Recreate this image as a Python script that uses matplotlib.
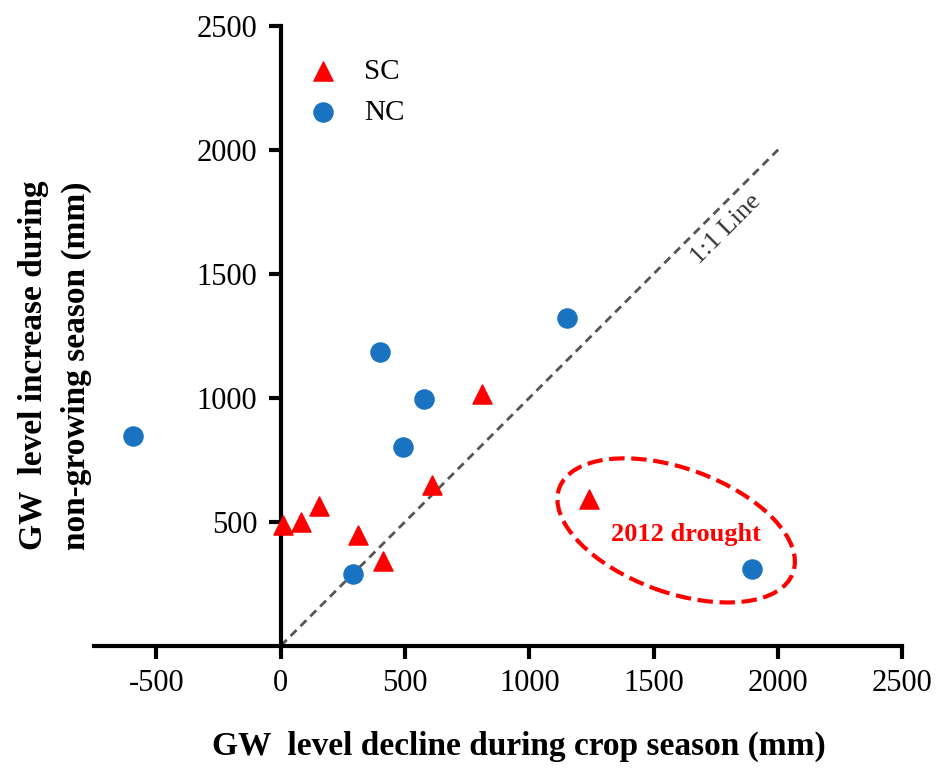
import matplotlib
matplotlib.use("Agg")
import matplotlib.pyplot as plt
from matplotlib.patches import Ellipse

sc_x = [10, 80, 155, 310, 410, 610, 810, 1240]
sc_y = [485, 500, 565, 445, 340, 650, 1015, 590]
nc_x = [-595, 290, 400, 490, 575, 1150, 1895]
nc_y = [845, 290, 1185, 800, 995, 1320, 310]
xticks = [-500, 0, 500, 1000, 1500, 2000, 2500]
yticks = [500, 1000, 1500, 2000, 2500]

plt.rcParams['font.family'] = ['Liberation Serif']
plt.rcParams['axes.unicode_minus'] = False
fig = plt.figure(figsize=(9.43, 7.78), dpi=100)
ax = fig.add_axes([0.1, 0.17, 0.857, 0.797])
ax.set_xlim(-750, 2500)
ax.set_ylim(0, 2500)
ax.spines['top'].set_visible(False)
ax.spines['right'].set_visible(False)
ax.spines['left'].set_position(('data', 0))
for s in ['left', 'bottom']:
    ax.spines[s].set_linewidth(3)
ax.set_xticks(xticks)
ax.set_yticks(yticks)
ax.tick_params(width=3, length=9, labelsize=22, pad=8)
ax.plot([0, 2000], [0, 2000], ls='--', color='#555555', lw=2, dashes=(3, 2))
ax.text(1790, 1680, '1:1 Line', rotation=45, fontsize=19, ha='center', va='center', color='#333333')
ax.scatter(sc_x, sc_y, marker='^', s=190, color='#ff0000', zorder=3, label='SC', clip_on=False)
ax.scatter(nc_x, nc_y, marker='o', s=190, color='#1a73c1', zorder=3, label='NC', clip_on=False)
ax.legend(loc='upper left', bbox_to_anchor=(0.215, 0.99), frameon=False, fontsize=21, handletextpad=0.4, labelspacing=0.5)
ax.add_patch(Ellipse((1590, 465), 1000, 500, angle=-20, fill=False, ec='#ff0000', lw=3, ls='--'))
ax.text(1630, 448, '2012 drought', color='#ff0000', fontsize=19, fontweight='bold', ha='center', va='center')
fig.text(0.55, 0.03, 'GW  level decline during crop season (mm)', ha='center', fontsize=24, fontweight='bold')
fig.text(0.058, 0.53, 'GW  level increase during\nnon-growing season (mm)', ha='center', va='center',
         rotation=90, fontsize=24, fontweight='bold', linespacing=1.5)
fig.savefig('out.png', dpi=100)
